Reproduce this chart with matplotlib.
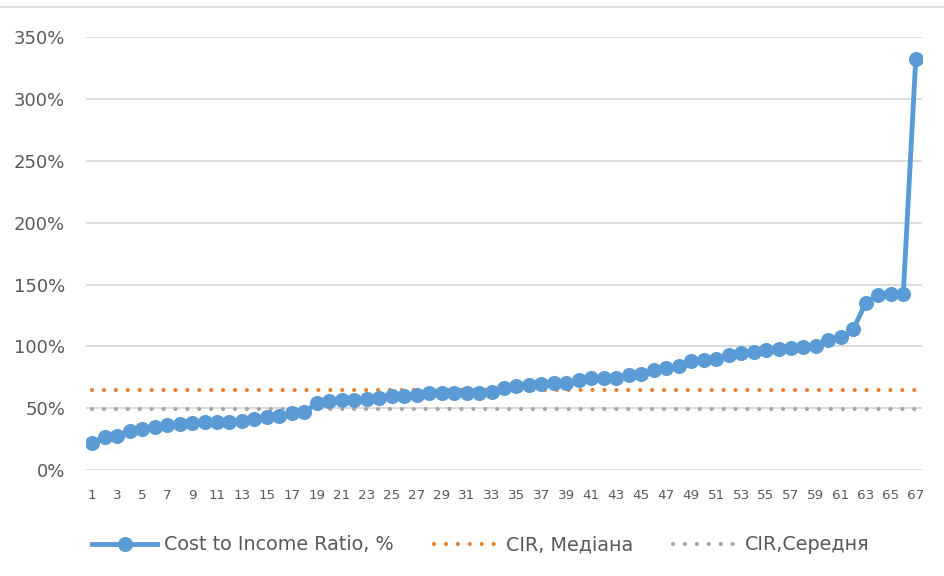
import matplotlib
matplotlib.use("Agg")
import matplotlib.pyplot as plt
from matplotlib.lines import Line2D
from matplotlib.ticker import FuncFormatter, FixedLocator

plt.rcParams['font.family'] = ['DejaVu Sans']

categories = list(range(1, 68))
cir_values = [21.5, 27.0, 27.5, 31.8, 33.0, 34.5, 36.0, 37.2, 37.8, 38.8,
              39.0, 39.0, 40.0, 41.0, 42.6, 43.7, 45.9, 47.2, 54.0, 56.0,
              56.6, 56.6, 57.2, 58.5, 59.9, 60.1, 60.7, 62.0, 62.0, 62.2,
              62.4, 62.6, 63.0, 66.0, 68.0, 68.8, 69.3, 70.0, 70.1, 72.8,
              74.5, 74.6, 74.8, 76.9, 77.7, 80.9, 82.3, 84.1, 88.4, 89.2,
              89.5, 93.0, 94.4, 95.7, 97.2, 97.9, 98.4, 99.2, 100.0, 105.2,
              107.3, 114.0, 135.4, 141.6, 142.4, 142.4, 332.5]
cir_median = 65.0
cir_mean = 49.4
series_names = ["Cost to Income Ratio, %", "CIR, Медіана", "CIR,Середня"]
y_ticks = [0, 50, 100, 150, 200, 250, 300, 350]
x_tick_labels = [str(c) for c in categories if c % 2 == 1]

fig = plt.figure(figsize=(9.44, 5.76), dpi=100)
ax = fig.add_axes([86/944, 1-470/576, (922-86)/944, (470-37.3)/576])

blue = '#5B9BD5'
orange = '#ED7D31'
gray = '#A5A5A5'
txt = '#595959'

ax.plot(categories, [cir_median]*len(categories), color=orange, lw=3.0,
        linestyle=(0, (0.01, 2.85)), dash_capstyle='round', label=series_names[1], zorder=2)
ax.plot(categories, [cir_mean]*len(categories), color=gray, lw=3.0,
        linestyle=(0, (0.01, 2.85)), dash_capstyle='round', label=series_names[2], zorder=2)
ax.plot(categories, cir_values, color=blue, lw=3.5, marker='o', markersize=9.8,
        markerfacecolor=blue, markeredgecolor=blue, label=series_names[0], zorder=3)

ax.set_xlim(0.5, 67.5)
ax.set_ylim(0, 350)
ax.set_yticks(y_ticks)
ax.yaxis.set_major_formatter(FuncFormatter(lambda v, p: f"{int(v)}%"))
ax.xaxis.set_major_locator(FixedLocator([c for c in categories if c % 2 == 1]))
ax.set_xticklabels(x_tick_labels)
ax.grid(axis='y', color='#D9D9D9', lw=1.3)
ax.set_axisbelow(True)
for s in ax.spines.values():
    s.set_visible(False)
ax.tick_params(axis='both', length=0, colors=txt)
ax.tick_params(axis='y', labelsize=13, pad=15)
ax.tick_params(axis='x', labelsize=9.7, pad=14)

h, l = ax.get_legend_handles_labels()
order = [2, 0, 1]
leg = fig.legend([h[i] for i in order], [l[i] for i in order], loc='center',
                 bbox_to_anchor=(481/944, 1-545/576), ncol=3, frameon=False,
                 fontsize=13.8, handlelength=3.4, handletextpad=0.35, columnspacing=2.1)
for t in leg.get_texts():
    t.set_color(txt)

fig.add_artist(Line2D([0, 1], [1-7/576, 1-7/576], color='#D9D9D9', lw=1.2, transform=fig.transFigure))

fig.savefig('out.png', dpi=100)
